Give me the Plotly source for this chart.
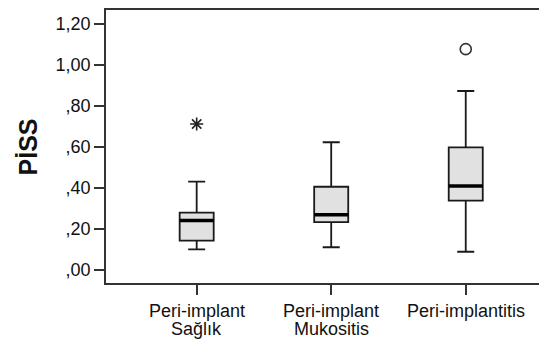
import plotly.graph_objects as go

categories = ["Peri-implant Sağlık", "Peri-implant Mukositis", "Peri-implantitis"]
tick_label_lines = [["Peri-implant", "Sağlık"], ["Peri-implant", "Mukositis"], ["Peri-implantitis"]]
lower_whisker = [0.101, 0.111, 0.089]
q1 = [0.143, 0.233, 0.338]
median = [0.241, 0.270, 0.410]
q3 = [0.280, 0.406, 0.598]
upper_whisker = [0.431, 0.623, 0.873]
extreme_group = [0]
extreme_values = [0.712]
outlier_group = [2]
outlier_values = [1.077]
ytick_vals = [0.0, 0.2, 0.4, 0.6, 0.8, 1.0, 1.2]
ytick_text = [",00", ",20", ",40", ",60", ",80", "1,00", "1,20"]

positions = list(range(len(categories)))
box_w = 0.253
FONT = "Liberation Sans, Arial, sans-serif"
FS = 18

fig = go.Figure()
fig.add_trace(go.Box(
    x=positions, q1=q1, median=median, q3=q3,
    lowerfence=lower_whisker, upperfence=upper_whisker,
    width=box_w, whiskerwidth=0.5, boxpoints=False,
    fillcolor="#e1e1e1", line=dict(color="#1a1a1a", width=1.8),
    showlegend=False, hoverinfo="skip",
))

# thick median lines
mx, my = [], []
for p, m in zip(positions, median):
    mx += [p - box_w / 2, p + box_w / 2, None]
    my += [m, m, None]
fig.add_trace(go.Scatter(x=mx, y=my, mode="lines",
                         line=dict(color="black", width=3.5),
                         showlegend=False, hoverinfo="skip"))

fig.add_trace(go.Scatter(x=extreme_group, y=extreme_values, mode="markers",
                         marker=dict(symbol="asterisk-open", size=11, color="#222",
                                     line=dict(color="#222", width=1.6)),
                         showlegend=False))
fig.add_trace(go.Scatter(x=outlier_group, y=outlier_values, mode="markers",
                         marker=dict(symbol="circle-open", size=11, color="#333",
                                     line=dict(color="#333", width=1.6)),
                         showlegend=False))

annotations = [dict(text="<b>PİSS</b>", textangle=-90, xref="paper", yref="paper",
                    x=-0.177, y=0.5, xanchor="center", yanchor="middle",
                    showarrow=False, font=dict(family=FONT, size=25, color="#111"))]
for p, lines in zip(positions, tick_label_lines):
    for i, line in enumerate(lines):
        annotations.append(dict(text=line, x=p, xref="x", y=0, yref="paper",
                                xanchor="center", yanchor="top", showarrow=False,
                                yshift=-16 - 18 * i,
                                font=dict(family=FONT, size=FS, color="#111")))

fig.update_layout(
    width=539, height=333,
    margin=dict(l=98, r=0, t=2, b=58),
    paper_bgcolor="white", plot_bgcolor="white",
    font=dict(family=FONT, size=FS, color="#111"),
    xaxis=dict(range=[-0.674, 2.604], tickvals=positions,
               ticktext=["" for _ in categories],
               showgrid=False, zeroline=False, showline=True, mirror=True,
               linecolor="#333", linewidth=1.6, ticks="outside", ticklen=10,
               tickwidth=1.5, tickcolor="#333"),
    yaxis=dict(range=[-0.0634, 1.268], tickvals=ytick_vals, ticktext=ytick_text,
               showgrid=False, zeroline=False, showline=True,
               linecolor="#333", linewidth=1.6, ticks="outside", ticklen=10,
               tickwidth=1.5, tickcolor="#333",
               tickfont=dict(family=FONT, size=FS, color="#111")),
    annotations=annotations,
)

fig.write_html("out.html")
